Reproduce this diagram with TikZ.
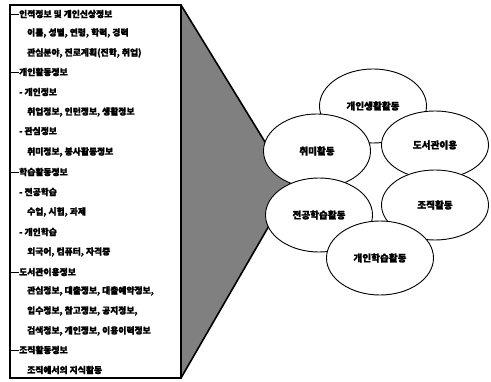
\documentclass[tikz,border=0pt]{standalone}
\usepackage{fontspec}
\setmainfont{Noto Sans CJK KR}[BoldFeatures={FakeBold=1.5}]
\usepackage{tikz}
\usetikzlibrary{shapes.geometric}

\begin{document}
\begin{tikzpicture}[
  x=1pt, y=-1pt,
  font=\fontsize{8.8}{10}\selectfont\bfseries,
  item/.style={anchor=west, inner sep=0pt},
  act/.style={ellipse, draw, fill=white, line width=0.9pt, minimum width=107pt,
              minimum height=74pt, inner sep=0pt, font=\fontsize{9.6}{11}\selectfont\bfseries},
  branch/.style={line width=0.8pt},
  frameline/.style={line width=1.2pt}
]
\useasboundingbox (0,0) rectangle (491,382);
\coordinate (tl) at (10,5);
\coordinate (tr) at (181,5);
\coordinate (br) at (181,378);
\coordinate (bl) at (10,378);
\coordinate (tip) at (292,186);

% funnel
\fill[black!50] (tr) -- (tip) -- (br) -- cycle;
\draw[line width=1.6pt] (tr) -- (tip) -- (br);
\draw[frameline] (tl) -- (tr) -- (br) -- (bl) -- cycle;

% information list
\node[item] (personal) at (19,14) {인적정보 및 개인신상정보};
\node[item] at (27,33) {이름, 성별, 연령, 학력, 경력};
\node[item] at (27,53) {관심분야, 진로계획(진학, 취업)};
\node[item] (private) at (19,72) {개인활동정보};
\node[item] at (19,92) {- 개인정보};
\node[item] at (27,112) {취업정보, 인턴정보, 생활정보};
\node[item] at (19,131) {- 관심정보};
\node[item] at (27,152) {취미정보, 봉사활동정보};
\node[item] (study) at (19,172) {학습활동정보};
\node[item] at (19,192) {- 전공학습};
\node[item] at (27,212) {수업, 시험, 과제};
\node[item] at (19,232) {- 개인학습};
\node[item] at (27,252) {외국어, 컴퓨터, 자격증};
\node[item] (library) at (19,272) {도서관이용정보};
\node[item] at (27,291) {관심정보, 대출정보, 대출예약정보,};
\node[item] at (27,311) {입수정보, 참고정보, 공지정보,};
\node[item] at (27,331) {검색정보, 개인정보, 이용이력정보};
\node[item] (group) at (19,350) {조직활동정보};
\node[item] at (27,370) {조직에서의 지식활동};

\foreach \n in {personal,private,study,library,group}
  \draw[branch] (\n.west -| tl) -- (\n.west);

% activities
\node[act] (life) at (373,106) {개인생활활동};
\node[act] (hobby) at (317,151) {취미활동};
\node[act, minimum height=68pt] (lib) at (435,145) {도서관이용};
\node[act] (major) at (319,215) {전공학습활동};
\node[act, minimum height=70pt] (org) at (435,205) {조직활동};
\node[act] (self) at (380,258) {개인학습활동};
\end{tikzpicture}
\end{document}
